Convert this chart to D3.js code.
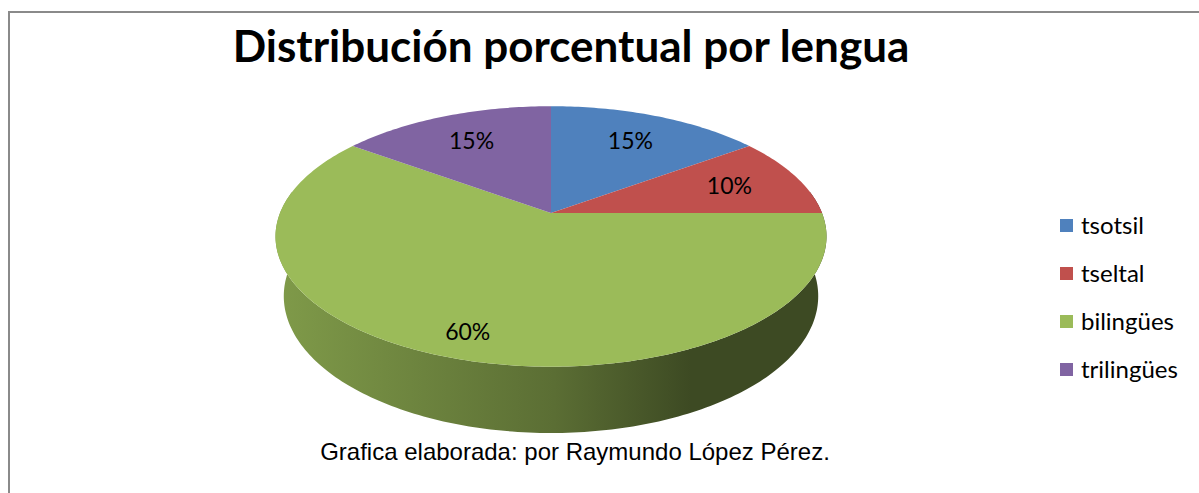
<!DOCTYPE html>
<html lang="es">

<head>
    <meta charset="utf-8">
    <script src="https://d3js.org/d3.v7.min.js"></script>
    <style>
        body { margin: 0; background: #fff; }
    </style>
</head>

<body>
    <script>
        // data
        const categories = ["tsotsil", "tseltal", "bilingües", "trilingües"];
        const values = [15, 10, 60, 15];
        const percentLabels = ["15%", "10%", "60%", "15%"];
        const sliceColors = ["#4f81bd", "#c0504d", "#9bbb59", "#8064a2"];
        const titleText = "Distribución porcentual por lengua";
        const captionText = "Grafica elaborada: por Raymundo López Pérez.";

        const width = 1199, height = 493;

        const svg = d3.select("body").append("svg")
            .attr("width", width)
            .attr("height", height);

        // chart frame
        svg.append("rect")
            .attr("x", 9).attr("y", 12)
            .attr("width", 1300).attr("height", 600)
            .attr("fill", "#fff")
            .attr("stroke", "#8a8a8a")
            .attr("stroke-width", 2);

        svg.append("text")
            .attr("x", 571).attr("y", 62)
            .attr("text-anchor", "middle")
            .style("font-family", "Lato, 'Open Sans', sans-serif")
            .style("font-weight", "bold")
            .style("font-size", "44px")
            .text(titleText);

        const color = d3.scaleOrdinal().domain(categories).range(sliceColors);

        // perspective projection of the tilted disc
        const cx = 551, cy = 213, sx = 271, sy = 126, k = 0.18, depth = 61, m = 0.03;
        function project(angle, r, h) {
            const X = Math.sin(angle) * r, Y = -Math.cos(angle) * r;
            const w = 1 - k * Y + m * h;
            return [cx + sx * X / w, cy + (sy * Y + depth * h) / w];
        }
        function arcPoints(a0, a1, h) {
            const n = Math.max(2, Math.ceil((a1 - a0) / (Math.PI / 180)));
            return d3.range(n + 1).map(i => project(a0 + (a1 - a0) * i / n, 1, h));
        }

        const pie = d3.pie().sort(null).value(d => d.value);
        const arcs = pie(categories.map((c, i) => ({ cat: c, value: values[i], label: percentLabels[i] })));

        const line = d3.line();
        const defs = svg.append("defs");

        // side walls (only the front half is visible)
        const frontLo = 80 * Math.PI / 180, frontHi = 280 * Math.PI / 180;
        arcs.forEach((a, i) => {
            const lo = Math.max(a.startAngle, frontLo), hi = Math.min(a.endAngle, frontHi);
            if (lo >= hi) return;
            const base = d3.color(color(a.data.cat));
            const grad = defs.append("linearGradient")
                .attr("id", "side" + i)
                .attr("gradientUnits", "userSpaceOnUse")
                .attr("x1", cx - sx).attr("x2", cx + sx + 6)
                .attr("y1", 0).attr("y2", 0);
            [[0, 0.55], [0.5, 1.5], [0.75, 2.6], [1, 2.6]].forEach(s => {
                grad.append("stop").attr("offset", s[0]).attr("stop-color", base.darker(s[1]).formatHex());
            });
            const pts = arcPoints(lo, hi, 0).concat(arcPoints(lo, hi, 1).reverse());
            svg.append("path")
                .attr("d", line(pts) + "Z")
                .attr("fill", "url(#side" + i + ")");
        });

        // top face
        svg.selectAll(".slice")
            .data(arcs)
            .join("path")
            .attr("class", "slice")
            .attr("d", a => line([project(0, 0, 0)].concat(arcPoints(a.startAngle, a.endAngle, 0))) + "Z")
            .attr("fill", a => color(a.data.cat));

        // percentage labels
        const labelPos = a => project((a.startAngle + a.endAngle) / 2, a.data.value > 50 ? 0.85 : 0.72, 0);
        svg.selectAll(".lbl")
            .data(arcs)
            .join("text")
            .attr("class", "lbl")
            .attr("x", a => labelPos(a)[0])
            .attr("y", a => labelPos(a)[1])
            .attr("dy", "0.35em")
            .attr("text-anchor", "middle")
            .style("font-family", "Lato, 'Open Sans', sans-serif")
            .style("font-size", "23px")
            .attr("fill", "#000")
            .text(a => a.data.label);

        // legend
        const legendY = d3.scalePoint().domain(categories).range([226, 370]);
        const legend = svg.selectAll(".leg")
            .data(categories)
            .join("g")
            .attr("class", "leg")
            .attr("transform", d => `translate(1060,${legendY(d)})`);
        legend.append("rect")
            .attr("x", 0).attr("y", -7)
            .attr("width", 13).attr("height", 13)
            .attr("fill", d => color(d));
        legend.append("text")
            .attr("x", 21).attr("y", 0)
            .attr("dy", "0.35em")
            .style("font-family", "Lato, 'Open Sans', sans-serif")
            .style("font-size", "24px")
            .text(d => d);

        // caption
        svg.append("text")
            .attr("x", 575).attr("y", 460)
            .attr("text-anchor", "middle")
            .style("font-family", "'Liberation Sans', Arial, sans-serif")
            .style("font-size", "24px")
            .text(captionText);
    </script>
</body>

</html>
